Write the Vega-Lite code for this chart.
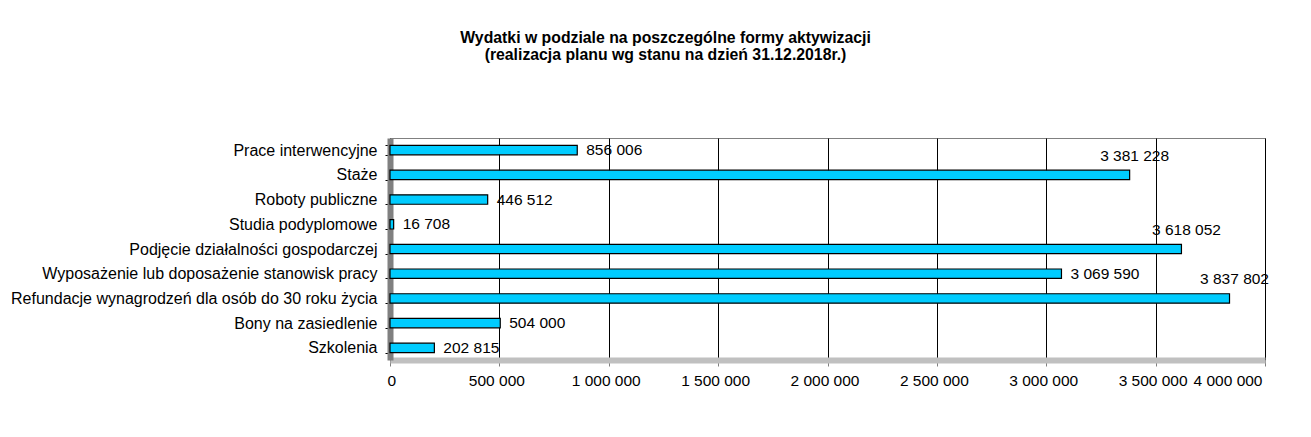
{
  "$schema": "https://vega.github.io/schema/vega-lite/v6.json",
  "autosize": "none",
  "width": 875,
  "height": 222,
  "padding": {"left": 390, "top": 138, "right": 46, "bottom": 77},
  "background": "white",
  "title": {
    "text": ["Wydatki w podziale na poszczególne formy aktywizacji", "(realizacja planu wg stanu na dzień 31.12.2018r.)"],
    "font": "Liberation Sans",
    "fontSize": 15.8,
    "fontWeight": "bold",
    "anchor": "middle",
    "dx": -162,
    "offset": 66,
    "color": "black",
    "lineHeight": 17
  },
  "data": {
    "values": [
      {"forma": "Prace interwencyjne", "wartosc": 856006},
      {"forma": "Staże", "wartosc": 3381228},
      {"forma": "Roboty publiczne", "wartosc": 446512},
      {"forma": "Studia podyplomowe", "wartosc": 16708},
      {"forma": "Podjęcie działalności gospodarczej", "wartosc": 3618052},
      {"forma": "Wyposażenie lub doposażenie stanowisk pracy", "wartosc": 3069590},
      {"forma": "Refundacje wynagrodzeń dla osób do 30 roku życia", "wartosc": 3837802},
      {"forma": "Bony na zasiedlenie", "wartosc": 504000},
      {"forma": "Szkolenia", "wartosc": 202815}
    ]
  },
  "encoding": {
    "y": {
      "field": "forma",
      "type": "nominal",
      "sort": null,
      "title": null,
      "scale": {"paddingInner": 0.62, "paddingOuter": 0.3},
      "axis": {
        "labelFont": "Liberation Sans",
        "labelFontSize": 16,
        "labelColor": "black",
        "labelPadding": 8,
        "labelLimit": 500,
        "tickBand": "extent",
        "tickSize": 5,
        "tickColor": "black",
        "domainColor": "#808080",
        "domainWidth": 6,
        "grid": false
      }
    },
    "x": {
      "field": "wartosc",
      "type": "quantitative",
      "title": null,
      "scale": {"domain": [0, 4000000], "nice": false},
      "axis": {
        "values": [0, 500000, 1000000, 1500000, 2000000, 2500000, 3000000, 3500000, 4000000],
        "format": ",d",
        "labelFont": "Liberation Sans",
        "labelFontSize": 15.5,
        "labelColor": "black",
        "labelPadding": 7,
        "labelOffset": -3,
        "tickSize": 6,
        "tickColor": "#808080",
        "domainColor": "#c0c0c0",
        "domainWidth": 6,
        "grid": true,
        "gridColor": "black",
        "gridWidth": 1,
        "gridOpacity": 1
      }
    }
  },
  "layer": [
    {
      "mark": {"type": "bar", "fill": "#00CCFF", "stroke": "black", "strokeWidth": 1.2}
    },
    {
      "transform": [{"filter": "datum.wartosc < 3300000"}],
      "mark": {"type": "text", "align": "left", "baseline": "middle", "dx": 9, "font": "Liberation Sans", "fontSize": 15.5, "color": "black"},
      "encoding": {"text": {"field": "wartosc", "type": "quantitative", "format": ",d"}}
    },
    {
      "transform": [{"filter": "datum.wartosc >= 3300000"}],
      "mark": {"type": "text", "align": "center", "baseline": "middle", "dx": 5, "dy": -19, "font": "Liberation Sans", "fontSize": 15.5, "color": "black"},
      "encoding": {"text": {"field": "wartosc", "type": "quantitative", "format": ",d"}}
    }
  ],
  "config": {
    "locale": {"number": {"decimal": ",", "thousands": " ", "grouping": [3], "currency": ["", " zł"]}},
    "view": {"stroke": "#808080", "strokeWidth": 1}
  }
}
